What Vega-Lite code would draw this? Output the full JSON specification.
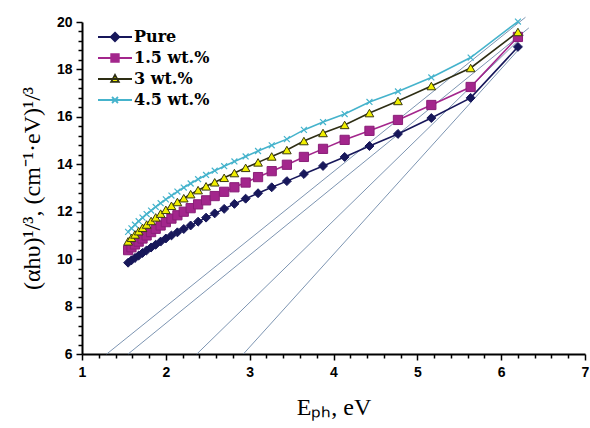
{
  "$schema": "https://vega.github.io/schema/vega-lite/v6.json",
  "autosize": "none",
  "width": 503,
  "height": 332,
  "padding": {"left": 82, "top": 22, "right": 5, "bottom": 74},
  "background": "white",
  "config": {"view": {"stroke": null}},
  "datasets": {
    "series": [
      {"s": "Pure", "E": 1.550, "y": 9.85}, {"s": "Pure", "E": 1.590, "y": 9.95}, {"s": "Pure", "E": 1.632, "y": 10.05}, {"s": "Pure", "E": 1.676, "y": 10.15}, {"s": "Pure", "E": 1.722, "y": 10.26}, {"s": "Pure", "E": 1.771, "y": 10.37}, {"s": "Pure", "E": 1.824, "y": 10.49}, {"s": "Pure", "E": 1.879, "y": 10.61}, {"s": "Pure", "E": 1.938, "y": 10.74}, {"s": "Pure", "E": 2.000, "y": 10.87}, {"s": "Pure", "E": 2.067, "y": 11.00}, {"s": "Pure", "E": 2.138, "y": 11.13}, {"s": "Pure", "E": 2.214, "y": 11.27}, {"s": "Pure", "E": 2.296, "y": 11.42}, {"s": "Pure", "E": 2.385, "y": 11.58}, {"s": "Pure", "E": 2.480, "y": 11.75}, {"s": "Pure", "E": 2.583, "y": 11.93}, {"s": "Pure", "E": 2.696, "y": 12.12}, {"s": "Pure", "E": 2.818, "y": 12.33}, {"s": "Pure", "E": 2.952, "y": 12.55}, {"s": "Pure", "E": 3.100, "y": 12.78}, {"s": "Pure", "E": 3.263, "y": 13.03}, {"s": "Pure", "E": 3.444, "y": 13.29}, {"s": "Pure", "E": 3.647, "y": 13.59}, {"s": "Pure", "E": 3.875, "y": 13.93}, {"s": "Pure", "E": 4.133, "y": 14.31}, {"s": "Pure", "E": 4.429, "y": 14.77}, {"s": "Pure", "E": 4.769, "y": 15.28}, {"s": "Pure", "E": 5.167, "y": 15.95}, {"s": "Pure", "E": 5.636, "y": 16.80}, {"s": "Pure", "E": 6.200, "y": 18.95},
      {"s": "1.5 wt.%", "E": 1.550, "y": 10.38}, {"s": "1.5 wt.%", "E": 1.590, "y": 10.50}, {"s": "1.5 wt.%", "E": 1.632, "y": 10.62}, {"s": "1.5 wt.%", "E": 1.676, "y": 10.74}, {"s": "1.5 wt.%", "E": 1.722, "y": 10.87}, {"s": "1.5 wt.%", "E": 1.771, "y": 11.00}, {"s": "1.5 wt.%", "E": 1.824, "y": 11.14}, {"s": "1.5 wt.%", "E": 1.879, "y": 11.28}, {"s": "1.5 wt.%", "E": 1.938, "y": 11.42}, {"s": "1.5 wt.%", "E": 2.000, "y": 11.56}, {"s": "1.5 wt.%", "E": 2.067, "y": 11.71}, {"s": "1.5 wt.%", "E": 2.138, "y": 11.85}, {"s": "1.5 wt.%", "E": 2.214, "y": 12.00}, {"s": "1.5 wt.%", "E": 2.296, "y": 12.15}, {"s": "1.5 wt.%", "E": 2.385, "y": 12.31}, {"s": "1.5 wt.%", "E": 2.480, "y": 12.48}, {"s": "1.5 wt.%", "E": 2.583, "y": 12.66}, {"s": "1.5 wt.%", "E": 2.696, "y": 12.84}, {"s": "1.5 wt.%", "E": 2.818, "y": 13.03}, {"s": "1.5 wt.%", "E": 2.952, "y": 13.23}, {"s": "1.5 wt.%", "E": 3.100, "y": 13.46}, {"s": "1.5 wt.%", "E": 3.263, "y": 13.71}, {"s": "1.5 wt.%", "E": 3.444, "y": 13.98}, {"s": "1.5 wt.%", "E": 3.647, "y": 14.31}, {"s": "1.5 wt.%", "E": 3.875, "y": 14.65}, {"s": "1.5 wt.%", "E": 4.133, "y": 15.03}, {"s": "1.5 wt.%", "E": 4.429, "y": 15.41}, {"s": "1.5 wt.%", "E": 4.769, "y": 15.87}, {"s": "1.5 wt.%", "E": 5.167, "y": 16.50}, {"s": "1.5 wt.%", "E": 5.636, "y": 17.26}, {"s": "1.5 wt.%", "E": 6.200, "y": 19.37},
      {"s": "3 wt.%", "E": 1.550, "y": 10.75}, {"s": "3 wt.%", "E": 1.590, "y": 10.90}, {"s": "3 wt.%", "E": 1.632, "y": 11.04}, {"s": "3 wt.%", "E": 1.676, "y": 11.18}, {"s": "3 wt.%", "E": 1.722, "y": 11.32}, {"s": "3 wt.%", "E": 1.771, "y": 11.46}, {"s": "3 wt.%", "E": 1.824, "y": 11.61}, {"s": "3 wt.%", "E": 1.879, "y": 11.76}, {"s": "3 wt.%", "E": 1.938, "y": 11.92}, {"s": "3 wt.%", "E": 2.000, "y": 12.08}, {"s": "3 wt.%", "E": 2.067, "y": 12.25}, {"s": "3 wt.%", "E": 2.138, "y": 12.41}, {"s": "3 wt.%", "E": 2.214, "y": 12.57}, {"s": "3 wt.%", "E": 2.296, "y": 12.74}, {"s": "3 wt.%", "E": 2.385, "y": 12.91}, {"s": "3 wt.%", "E": 2.480, "y": 13.07}, {"s": "3 wt.%", "E": 2.583, "y": 13.24}, {"s": "3 wt.%", "E": 2.696, "y": 13.43}, {"s": "3 wt.%", "E": 2.818, "y": 13.63}, {"s": "3 wt.%", "E": 2.952, "y": 13.85}, {"s": "3 wt.%", "E": 3.100, "y": 14.08}, {"s": "3 wt.%", "E": 3.263, "y": 14.33}, {"s": "3 wt.%", "E": 3.444, "y": 14.60}, {"s": "3 wt.%", "E": 3.647, "y": 14.98}, {"s": "3 wt.%", "E": 3.875, "y": 15.32}, {"s": "3 wt.%", "E": 4.133, "y": 15.66}, {"s": "3 wt.%", "E": 4.429, "y": 16.16}, {"s": "3 wt.%", "E": 4.769, "y": 16.67}, {"s": "3 wt.%", "E": 5.167, "y": 17.30}, {"s": "3 wt.%", "E": 5.636, "y": 18.06}, {"s": "3 wt.%", "E": 6.200, "y": 19.58},
      {"s": "4.5 wt.%", "E": 1.550, "y": 11.15}, {"s": "4.5 wt.%", "E": 1.590, "y": 11.30}, {"s": "4.5 wt.%", "E": 1.632, "y": 11.45}, {"s": "4.5 wt.%", "E": 1.676, "y": 11.60}, {"s": "4.5 wt.%", "E": 1.722, "y": 11.75}, {"s": "4.5 wt.%", "E": 1.771, "y": 11.90}, {"s": "4.5 wt.%", "E": 1.824, "y": 12.05}, {"s": "4.5 wt.%", "E": 1.879, "y": 12.20}, {"s": "4.5 wt.%", "E": 1.938, "y": 12.36}, {"s": "4.5 wt.%", "E": 2.000, "y": 12.52}, {"s": "4.5 wt.%", "E": 2.067, "y": 12.68}, {"s": "4.5 wt.%", "E": 2.138, "y": 12.85}, {"s": "4.5 wt.%", "E": 2.214, "y": 13.02}, {"s": "4.5 wt.%", "E": 2.296, "y": 13.19}, {"s": "4.5 wt.%", "E": 2.385, "y": 13.37}, {"s": "4.5 wt.%", "E": 2.480, "y": 13.55}, {"s": "4.5 wt.%", "E": 2.583, "y": 13.73}, {"s": "4.5 wt.%", "E": 2.696, "y": 13.92}, {"s": "4.5 wt.%", "E": 2.818, "y": 14.12}, {"s": "4.5 wt.%", "E": 2.952, "y": 14.33}, {"s": "4.5 wt.%", "E": 3.100, "y": 14.56}, {"s": "4.5 wt.%", "E": 3.263, "y": 14.80}, {"s": "4.5 wt.%", "E": 3.444, "y": 15.06}, {"s": "4.5 wt.%", "E": 3.647, "y": 15.45}, {"s": "4.5 wt.%", "E": 3.875, "y": 15.78}, {"s": "4.5 wt.%", "E": 4.133, "y": 16.12}, {"s": "4.5 wt.%", "E": 4.429, "y": 16.63}, {"s": "4.5 wt.%", "E": 4.769, "y": 17.07}, {"s": "4.5 wt.%", "E": 5.167, "y": 17.66}, {"s": "4.5 wt.%", "E": 5.636, "y": 18.50}, {"s": "4.5 wt.%", "E": 6.200, "y": 20.02}
    ],
    "fits": [
      {"id": "f1", "E": 1.295, "y": 6}, {"id": "f1", "E": 6.29, "y": 20.2},
      {"id": "f2", "E": 1.55, "y": 6}, {"id": "f2", "E": 6.33, "y": 19.75},
      {"id": "f3", "E": 2.37, "y": 6}, {"id": "f3", "E": 6.27, "y": 19.45},
      {"id": "f4", "E": 2.925, "y": 6}, {"id": "f4", "E": 6.25, "y": 19.0}
    ]
  },
  "encoding": {
    "x": {
      "field": "E", "type": "quantitative",
      "scale": {"domain": [1, 7], "nice": false, "zero": false},
      "axis": {
        "title": "Eₚₕ, eV",
        "titleFont": "Liberation Serif", "titleFontSize": 24, "titleFontWeight": "normal", "titleColor": "black", "titlePadding": 16,
        "values": [1, 1.2, 1.4, 1.6, 1.8, 2, 2.2, 2.4, 2.6, 2.8, 3, 3.2, 3.4, 3.6, 3.8, 4, 4.2, 4.4, 4.6, 4.8, 5, 5.2, 5.4, 5.6, 5.8, 6, 6.2, 6.4, 6.6, 6.8, 7],
        "labelExpr": "abs(datum.value - round(datum.value)) < 0.001 ? format(datum.value, 'd') : ''",
        "labelOverlap": false, "labelFlush": false,
        "labelFont": "Liberation Sans", "labelFontWeight": "bold", "labelFontSize": 14, "labelColor": "black", "labelPadding": 5,
        "tickSize": {"condition": {"test": "abs(datum.value - round(datum.value)) < 0.001", "value": 6}, "value": 4},
        "tickColor": "black", "tickWidth": 1.5,
        "domainColor": "black", "domainWidth": 2, "grid": false
      }
    },
    "y": {
      "field": "y", "type": "quantitative",
      "scale": {"domain": [6, 20], "nice": false, "zero": false},
      "axis": {
        "title": "(αhυ)¹/³, (cm⁻¹·eV)¹/³",
        "titleFont": "Liberation Serif", "titleFontSize": 24, "titleFontWeight": "normal", "titleColor": "black", "titlePadding": 12,
        "values": [6, 6.4, 6.8, 7.2, 7.6, 8, 8.4, 8.8, 9.2, 9.6, 10, 10.4, 10.8, 11.2, 11.6, 12, 12.4, 12.8, 13.2, 13.6, 14, 14.4, 14.8, 15.2, 15.6, 16, 16.4, 16.8, 17.2, 17.6, 18, 18.4, 18.8, 19.2, 19.6, 20],
        "labelExpr": "abs(datum.value / 2 - round(datum.value / 2)) < 0.001 ? format(datum.value, 'd') : ''",
        "labelOverlap": false, "labelFlush": false,
        "labelFont": "Liberation Sans", "labelFontWeight": "bold", "labelFontSize": 14, "labelColor": "black", "labelPadding": 4,
        "tickSize": {"condition": {"test": "abs(datum.value / 2 - round(datum.value / 2)) < 0.001", "value": 6}, "value": 4},
        "tickColor": "black", "tickWidth": 1.5,
        "domainColor": "black", "domainWidth": 2, "grid": false
      }
    }
  },
  "layer": [
    {
      "data": {"name": "fits"},
      "mark": {"type": "line", "color": "#7d95b2", "strokeWidth": 1},
      "encoding": {"detail": {"field": "id"}}
    },
    {
      "data": {"name": "series"},
      "mark": {"type": "line", "strokeWidth": 1.6},
      "encoding": {
        "stroke": {
          "field": "s", "type": "nominal",
          "scale": {"domain": ["Pure", "1.5 wt.%", "3 wt.%", "4.5 wt.%"], "range": ["#17175a", "#a3268c", "#2e2e14", "#45b3cc"]},
          "legend": {
            "title": null, "orient": "none", "legendX": 25, "legendY": 7,
            "symbolType": "M-3.4,0H3.4", "symbolSize": 100, "symbolStrokeWidth": 1.8, "rowPadding": 5, "labelOffset": 11,
            "labelFont": "DejaVu Serif", "labelFontSize": 16, "labelFontWeight": "bold", "labelColor": "black",
            "encode": {
              "symbols": {
                "update": {
                  "shape": {"signal": "datum.value === 'Pure' ? 'M-3.4,0H3.4M0,-0.86L0.86,0L0,0.86L-0.86,0Z' : datum.value === '1.5 wt.%' ? 'M-3.4,0H3.4M-0.76,-0.76H0.76V0.76H-0.76Z' : datum.value === '3 wt.%' ? 'M-3.4,0H3.4M0,-0.83L0.76,0.56H-0.76Z' : 'M-3.4,0H3.4M-0.6,-0.6L0.6,0.6M-0.6,0.6L0.6,-0.6'"},
                  "fill": {"signal": "datum.value === 'Pure' ? '#17175a' : datum.value === '1.5 wt.%' ? '#a3268c' : datum.value === '3 wt.%' ? '#f0ef00' : 'transparent'"},
                  "fillOpacity": {"value": 1}
                }
              }
            }
          }
        }
      }
    },
    {
      "data": {"name": "series"},
      "transform": [{"filter": "datum.s === '4.5 wt.%'"}],
      "mark": {"type": "point", "shape": "M-1,-1L1,1M-1,1L1,-1", "filled": false, "stroke": "#45b3cc", "strokeWidth": 1.2, "size": 35, "opacity": 1}
    },
    {
      "data": {"name": "series"},
      "transform": [{"filter": "datum.s === 'Pure'"}],
      "mark": {"type": "point", "shape": "diamond", "filled": true, "fill": "#17175a", "stroke": "#17175a", "strokeWidth": 1, "size": 80, "opacity": 1}
    },
    {
      "data": {"name": "series"},
      "transform": [{"filter": "datum.s === '1.5 wt.%'"}],
      "mark": {"type": "point", "shape": "square", "filled": true, "fill": "#a3268c", "stroke": "#8a1f78", "strokeWidth": 1, "size": 85, "opacity": 1}
    },
    {
      "data": {"name": "series"},
      "transform": [{"filter": "datum.s === '3 wt.%'"}],
      "mark": {"type": "point", "shape": "triangle-up", "filled": true, "fill": "#f0ef00", "stroke": "#3a3a10", "strokeWidth": 1, "size": 75, "opacity": 1}
    }
  ]
}
